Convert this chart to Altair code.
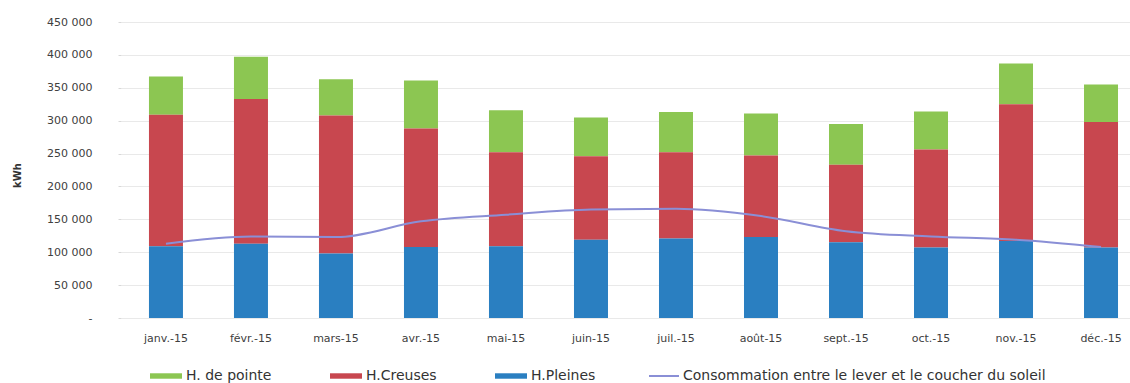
import altair as alt
import pandas as pd

months = ["janv.-15", "févr.-15", "mars-15", "avr.-15", "mai-15", "juin-15",
          "juil.-15", "août-15", "sept.-15", "oct.-15", "nov.-15", "déc.-15"]
pointe = [58000, 64000, 55000, 73000, 64000, 59000, 61000, 64000, 62000, 58000, 62000, 57000]
creuses = [200000, 220000, 210000, 180000, 143000, 127000, 131000, 124000, 118000, 149000, 208000, 191000]
pleines = [109000, 113000, 98000, 108000, 109000, 119000, 121000, 123000, 115000, 107000, 117000, 107000]
soleil = [113000, 124000, 123000, 147000, 157000, 165000, 166000, 155000, 132000, 124000, 119000, 108000]

series = ["H. de pointe", "H.Creuses", "H.Pleines"]
colors = ["#8cc652", "#c8474f", "#2a7fc1"]
line_name = "Consommation entre le lever et le coucher du soleil"
line_color = "#8a8fd6"
y_ticks = [0, 50000, 100000, 150000, 200000, 250000, 300000, 350000, 400000, 450000]

rows = []
for i, m in enumerate(months):
    for s, vals, o in zip(series, [pointe, creuses, pleines], [3, 2, 1]):
        rows.append({"mois": m, "serie": s, "kwh": vals[i], "ordre": o})
bars_df = pd.DataFrame(rows)
line_df = pd.DataFrame({"mois": months, "kwh": soleil, "serie": [line_name] * len(months)})

FONT = "DejaVu Sans"

xscale = alt.Scale(paddingInner=0.6, paddingOuter=0.235, align=0.7)
xaxis = alt.Axis(title=None, labelAngle=0, ticks=False, domain=False, grid=False,
                 labelPadding=14, labelFontSize=11, labelColor="#404040", labelFont=FONT)
yscale = alt.Scale(domain=[0, 450000], nice=False)
yaxis = alt.Axis(
    values=y_ticks, labelOverlap=False,
    labelExpr="datum.value == 0 ? '-' : replace(format(datum.value, ','), ',', ' ')",
    grid=True, gridColor="#e9e9e9", domain=False, tickSize=3, tickColor="#d8d8d8",
    labelPadding=26, labelFontSize=11, labelColor="#404040", labelFont=FONT,
    title="kWh", titleFont=FONT, titleFontSize=10, titleFontWeight="bold", titleColor="#333333",
    titleAngle=270, titleAlign="center", titleBaseline="middle", titleX=-104, titleY=153,
)

bars = alt.Chart(bars_df).mark_bar().encode(
    x=alt.X("mois:N", sort=months, scale=xscale, axis=xaxis),
    y=alt.Y("kwh:Q", stack="zero", scale=yscale, axis=yaxis),
    color=alt.Color(
        "serie:N",
        scale=alt.Scale(domain=series, range=colors),
        legend=alt.Legend(
            title=None, orient="none", legendX=29, legendY=338, direction="horizontal",
            symbolType="M-1,-0.17H1V0.17H-1Z", symbolSize=1024, symbolStrokeWidth=0,
            symbolOpacity=1, labelFontSize=14, labelFont=FONT, labelColor="#333333",
            labelOffset=4, columnPadding=58, labelLimit=500,
        ),
    ),
    order=alt.Order("ordre:Q", sort="ascending"),
)

line = alt.Chart(line_df).mark_line(interpolate="monotone", strokeWidth=2).encode(
    x=alt.X("mois:N", sort=months, scale=xscale, axis=xaxis),
    y=alt.Y("kwh:Q", scale=yscale, axis=yaxis),
    stroke=alt.Stroke(
        "serie:N",
        scale=alt.Scale(domain=[line_name], range=[line_color]),
        legend=alt.Legend(
            title=None, orient="none", legendX=527, legendY=338,
            symbolType="stroke", symbolSize=900, symbolStrokeWidth=2,
            labelFontSize=14, labelFont=FONT, labelColor="#333333", labelOffset=3,
            labelLimit=600,
        ),
    ),
)

chart = alt.layer(bars, line).resolve_legend(color="independent", stroke="independent").properties(
    width=1009, height=296,
    autosize=alt.AutoSizeParams(type="none"),
    padding={"left": 121, "top": 22, "right": 0, "bottom": 65},
    background="white",
).configure_view(stroke=None)

chart.save("out.html", embed_options={"renderer": "svg", "actions": False})
